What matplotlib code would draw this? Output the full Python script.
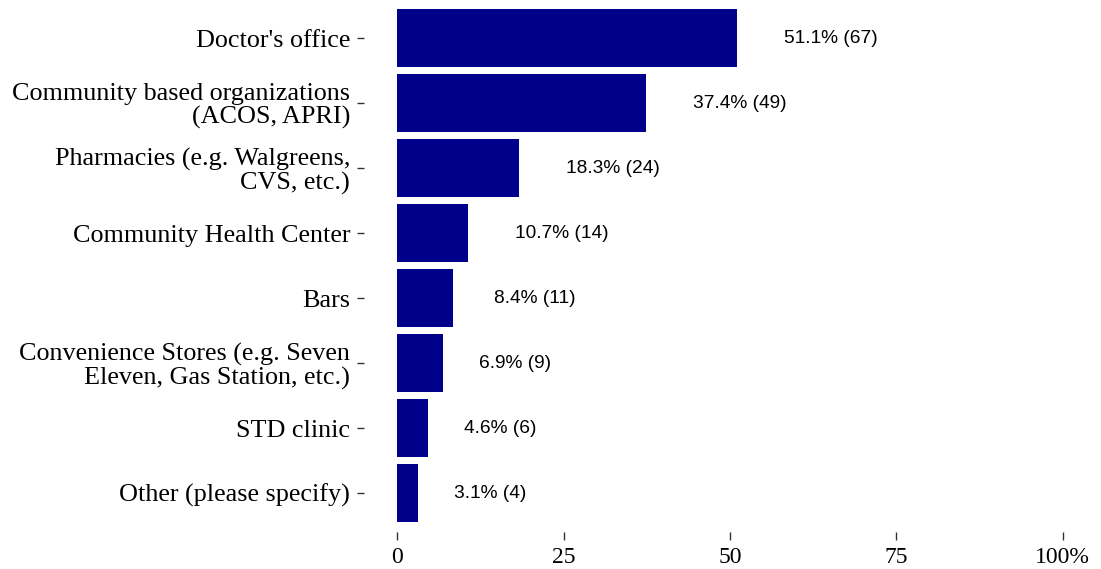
import matplotlib
matplotlib.use("Agg")
import matplotlib.pyplot as plt

categories = [
    "Doctor's office",
    "Community based organizations\n(ACOS, APRI)",
    "Pharmacies (e.g. Walgreens,\nCVS, etc.)",
    "Community Health Center",
    "Bars",
    "Convenience Stores (e.g. Seven\nEleven, Gas Station, etc.)",
    "STD clinic",
    "Other (please specify)",
]
percents = [51.1, 37.4, 18.3, 10.7, 8.4, 6.9, 4.6, 3.1]
counts = [67, 49, 24, 14, 11, 9, 6, 4]
x_ticks = [0, 25, 50, 75, 100]
x_tick_labels = ["0", "25", "50", "75", "100%"]


def main():
    fig = plt.figure(figsize=(11.01, 5.69), dpi=100)
    ax = fig.add_axes([0.3306, 0.065, 0.6649, 0.9367])

    ypos = list(range(len(categories)))
    ax.barh(ypos, percents, height=0.9, color="#00008B")

    ax.set_xlim(-5, 105)
    ax.set_ylim(len(categories) - 0.4, -0.6)

    ax.set_yticks(ypos)
    ax.set_yticklabels(categories, family="Liberation Serif", fontsize=18.8,
                       linespacing=1.05)
    ax.set_xticks(x_ticks)
    ax.set_xticklabels(x_tick_labels, family="Liberation Serif", fontsize=17)
    ax.tick_params(axis="y", length=5, width=1, color="#333333", pad=5)
    ax.tick_params(axis="x", length=6, width=1, color="#333333", pad=5)
    for s in ax.spines.values():
        s.set_visible(False)

    # value labels, hjust = -0.5 like the original
    texts = []
    for y, p, c in zip(ypos, percents, counts):
        t = ax.annotate(f"{p}% ({c})", xy=(p, y), xytext=(0, 0),
                        textcoords="offset pixels", ha="left", va="center",
                        family="Liberation Sans", fontsize=13.8, color="black")
        texts.append(t)
    fig.canvas.draw()
    r = fig.canvas.get_renderer()
    for t in texts:
        w = t.get_window_extent(r).width
        t.set_position((0.5 * w, 0))

    fig.savefig("out.png", dpi=100)


if __name__ == "__main__":
    main()
